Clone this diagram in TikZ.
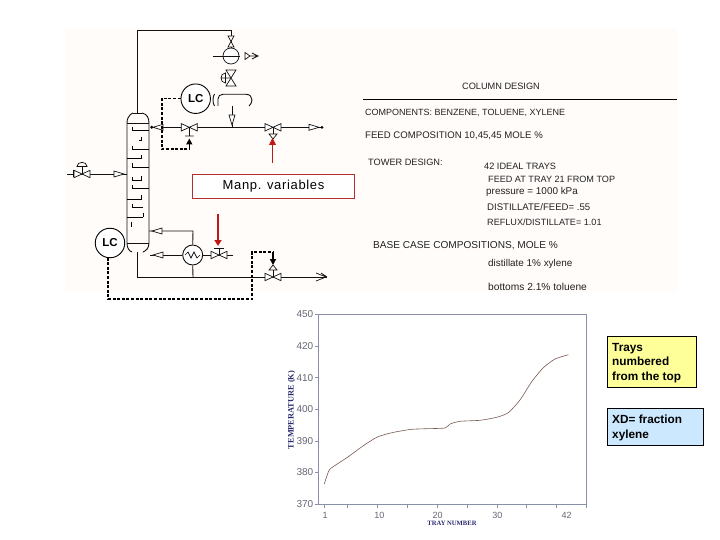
\documentclass[tikz,border=0pt]{standalone}
\usepackage{fontspec}
\setmainfont{Liberation Sans}
\newfontfamily\spacedfont[LetterSpace=5]{Liberation Sans}
\newfontfamily\axisfont{Liberation Serif}
\usetikzlibrary{arrows.meta}
\definecolor{pid}{HTML}{111111}
\definecolor{redbox}{HTML}{B03030}
\definecolor{redarrow}{HTML}{C01818}
\definecolor{axisc}{HTML}{8A8FA8}
\definecolor{curvec}{HTML}{7A5A50}
\definecolor{ticktxt}{HTML}{666677}
\definecolor{axtitle}{HTML}{2A2A70}
\definecolor{txt}{HTML}{222222}
\definecolor{noteyellow}{HTML}{FFFF99}
\definecolor{noteblue}{HTML}{CCE8FF}
\newcommand{\dfont}[1]{\fontsize{#1}{11}\selectfont}
\tikzset{
  x=1pt,y=-1pt,
  pipe/.style={draw=pid,line width=0.9pt},
  signal/.style={draw=black,line width=1.6pt,dash pattern=on 3pt off 1.6pt},
  thin part/.style={draw=pid,line width=0.7pt},
  trayline/.style={draw=black,line width=1pt},
  blackarrow/.style={draw=black,line width=1.4pt,-{Triangle[length=6pt,width=6pt]}},
  redthin/.style={draw=redarrow,line width=0.8pt,-{Triangle[length=7pt,width=7pt]}},
  redthick/.style={draw=redarrow,line width=1.5pt,-{Triangle[length=6pt,width=7pt]}},
  lc/.style={circle,draw=black,line width=0.9pt,minimum size=29.5pt,inner sep=0pt,fill=white,font=\bfseries\fontsize{11.5}{11.5}\selectfont},
  design/.style={anchor=west,inner sep=0pt,text=txt},
  ticklab/.style={text=ticktxt,inner sep=0pt,font=\fontsize{10}{10}\selectfont},
  xticklab/.style={text=ticktxt,inner sep=0pt,font=\fontsize{9}{9}\selectfont},
  notebox/.style={draw=black,line width=0.7pt,anchor=north west,inner sep=0pt},
  notetext/.style={anchor=west,align=left,inner sep=0pt,font=\bfseries\fontsize{11.8}{14.7}\selectfont,text=black},
  hvalve/.pic={\draw[thin part,fill=white] (-8,-3.7)--(8,3.7)--(8,-3.7)--(-8,3.7)--cycle;},
  vvalve/.pic={\draw[thin part,fill=white] (-5,-8)--(5,8)--(-5,8)--(5,-8)--cycle;},
  vsmall/.pic={\draw[thin part,fill=white] (-3,-5.5)--(3,5.5)--(-3,5.5)--(3,-5.5)--cycle;},
  flowr/.pic={\draw[thin part,fill=white] (-5,-3)--(5,0)--(-5,3)--cycle;},
  flowl/.pic={\draw[thin part,fill=white] (5,-3)--(-5,0)--(5,3)--cycle;},
  flowd/.pic={\draw[thin part,fill=white] (-3,-5)--(0,5)--(3,-5)--cycle;},
}
\begin{document}
\begin{tikzpicture}
\useasboundingbox (0,0) rectangle (720,540);
\fill[white] (0,0) rectangle (720,540);
\fill[fill=white!98!orange] (65,28) rectangle (677,293);
% column
\coordinate (coltop) at (137.5,113);
\coordinate (colbot) at (137.5,252);
\draw[pipe] (127,123) .. controls (127,115) and (133,113) .. (133,113) (142,113) .. controls (147,114) and (149,118) .. (149,123)
  -- (149,243) .. controls (149,248) and (146,251) .. (143,252)
  (132,252) .. controls (129,251) and (127,248) .. (127,243) -- (127,123);
\draw[pipe] (133,113)--(142,113);
\draw[pipe] (127,123)--(149,123) (127,243)--(149,243);
% trays
\foreach \xa/\xb/\yy in {132/149/130.7,132/149/149.5,127/141.7/159,132/149/167.5,132/141.7/181,132/149/189,127/141.7/199.3,132/143/207.5,127/143/217.3}{
  \draw[trayline] (\xa,\yy)--(\xb,\yy);
}
\draw[trayline] (132,127)--(132,130.7) (141,137)--(141,141)--(138.5,141) (132,146)--(132,149.5)
  (141.7,155.5)--(141.7,159) (132,163.5)--(132,167.5) (132,177)--(132,181) (141.7,176)--(141.7,181)
  (132,185)--(132,189) (141.7,195)--(141.7,199.3) (132,204)--(132,207.5) (143,213)--(143,217.3) (131,222)--(131,227);
% top
\coordinate (cond) at (231,48);
\draw[pipe] (coltop)--(137.5,30)--(231,30)--(cond);
\draw[thin part,fill=white] (231,56) circle[radius=8];
\draw[pipe] (213,56)--(240,56);
\pic at (231,41.5) {vsmall};
\draw[thin part] (245,52.5)--(245,59.5)--(250,56)--cycle (250,56)--(258,56) (252,53)--(258,56)--(252,59);
\pic at (231,78) {vvalve};
\draw[thin part] (225.5,73) .. controls (219.5,73) and (219.5,83) .. (225.5,83) -- cycle (221,78)--(231,78);
% reflux drum
\node[lc] (lc1) at (195.7,98.7) {LC};
\draw[pipe] (214.5,94) .. controls (212.5,97) and (212.5,103) .. (214.5,106)
  (218,106)--(218,99) .. controls (218,96) and (220,94.3) .. (223,94.3) -- (246,94.3)
  .. controls (250,94.3) and (252,97) .. (252,100) .. controls (252,102.5) and (250.5,104.5) .. (249,106);
% reflux and distillate
\coordinate (refl) at (151.7,127.3);
\coordinate (dist) at (322,127.3);
\draw[pipe] (refl)--(dist);
\fill[black] (refl) circle[radius=1.6] (dist) circle[radius=1.5];
\pic at (158,127.3) {flowl};
\pic at (189.3,127.3) {hvalve};
\pic at (273,127.3) {hvalve};
\pic at (314,127.3) {flowr};
\draw[pipe] (232,106)--(232,127.3);
\pic at (232,120) {flowd};
\draw[pipe] (189.3,127.3)--(189.3,136) (273,127.3)--(273,134);
\draw[thin part] (185,136)--(193.5,136) (269,134)--(277,134)--(273,139)--cycle;
\coordinate (sv1) at (189.3,149.3);
\coordinate (sv1h) at (189.3,138.5);
\draw[signal] (lc1.west)--(161.7,98.7)--(161.7,149.3)--(sv1);
\draw[blackarrow] (sv1)--(sv1h);
% red note
\node[draw=redbox,line width=0.8pt,fill=white,minimum width=162pt,minimum height=24pt,inner sep=0pt,text=black] (manp) at (273.5,186) {\spacedfont\fontsize{13}{13}\selectfont Manp. variables};
\coordinate (r1a) at (272.5,163);
\coordinate (r1b) at (272.5,138);
\coordinate (r2a) at (218,214);
\coordinate (r2b) at (218,246);
\draw[redthin] (r1a)--(r1b);
\draw[redthick] (r2a)--(r2b);
% feed
\coordinate (feedin) at (67,174);
\coordinate (feedout) at (127,174);
\draw[pipe] (feedin)--(feedout);
\draw[thin part] (73.5,170.5)--(73.5,177.5);
\pic at (82,174) {hvalve};
\pic at (119,174) {flowr};
\draw[pipe] (82,174)--(82,166.5);
\draw[thin part] (77,166.5) .. controls (77,161) and (87,161) .. (87,166.5) -- cycle;
% reboiler
\node[circle,draw=pid,line width=0.9pt,minimum size=20pt,inner sep=0pt,fill=white] (reb) at (192.7,255) {};
\draw[thin part] (185,255)--(188,252)--(191,258)--(194,252)--(197,258)--(200,255);
\coordinate (vapin) at (149,231);
\coordinate (liqout) at (150,255);
\coordinate (stm) at (233,255);
\coordinate (botturn) at (137.5,277);
\coordinate (botend) at (327,277);
\draw[pipe] (reb.north)--(193,231)--(vapin);
\pic at (157,231) {flowl};
\draw[pipe] (reb.west)--(liqout);
\pic at (158,255) {flowl};
\draw[pipe] (reb.east)--(stm);
\pic at (219,255) {hvalve};
\draw[pipe] (219,255)--(219,248);
\draw[thin part] (214,248)--(224,248);
\draw[pipe] (colbot)--(botturn)--(botend);
\draw[pipe] (reb.south)--(193,277);
\pic at (273,277) {hvalve};
\draw[thin part] (269,270)--(277,270)--(273,265)--cycle;
\draw[pipe] (273,277)--(273,270);
\draw[thin part] (316,273)--(326,277)--(316,281) (321,273)--(327,277);
% LC bottom
\node[lc] (lc2) at (110,243) {LC};
\coordinate (sv2) at (273,252);
\coordinate (sv2h) at (273,265);
\coordinate (lc2s) at (108,257.5);
\draw[signal] (lc2s)--(108,299)--(252,299)--(252,252)--(sv2);
\draw[blackarrow] (sv2)--(sv2h);
% column design
\node[anchor=center,inner sep=0pt,text=txt,font=\dfont{9.2}] (t0) at (501,86) {COLUMN DESIGN};
\coordinate (ru1) at (363,99.5);
\coordinate (ru2) at (677,99.5);
\draw[black,line width=0.8pt] (ru1)--(ru2);
\node[design,font=\dfont{9.0}] (t1) at (365,112.7) {COMPONENTS: BENZENE, TOLUENE, XYLENE};
\node[design,font=\dfont{9.6}] (t2) at (365,136) {FEED COMPOSITION 10,45,45 MOLE \%};
\node[design,font=\dfont{9.2}] (t3) at (368,162) {TOWER DESIGN:};
\node[design,font=\dfont{9.2}] (t4) at (484,166) {42 IDEAL TRAYS};
\node[design,font=\dfont{9.1}] (t5) at (488,179) {FEED AT TRAY 21 FROM TOP};
\node[design,font=\dfont{9.9}] (t6) at (486,192) {pressure = 1000 kPa};
\node[design,font=\dfont{9.6}] (t7) at (487,207) {DISTILLATE/FEED= .55};
\node[design,font=\dfont{9.1}] (t8) at (487,222) {REFLUX/DISTILLATE= 1.01};
\node[design,font=\dfont{10.1}] (t9) at (373,246) {BASE CASE COMPOSITIONS, MOLE \%};
\node[design,font=\dfont{9.9}] (t10) at (488,264) {distillate 1\% xylene};
\node[design,font=\dfont{10.2}] (t11) at (488,287) {bottoms 2.1\% toluene};
% chart
\draw[axisc,line width=0.8pt] (318.3,314.3) rectangle (586,504.3);
\foreach \xx in {324.3,347.7,377.7,407.3,437.3,467.3,497,526.7,556.7,586}{
  \draw[axisc,line width=0.6pt] (\xx,504.3)--(\xx,508);}
\foreach \yy/\lab in {314.3/450,346/420,377.7/410,409.3/400,441/390,472.3/380,504.3/370}{
  \draw[axisc,line width=0.6pt] (318.3,\yy)--(315,\yy);
  \node[ticklab,anchor=east] (ylab\lab) at (313.5,\yy) {\lab};}
\foreach \xx/\lab in {325/1,379.3/10,437.7/20,497.3/30,566.7/42}{
  \node[xticklab] (xlab\lab) at (\xx,515) {\lab};}
\node[rotate=90,text=axtitle,inner sep=0pt,font=\axisfont\bfseries\fontsize{8.3}{9}\selectfont] (ytitle) at (291.7,410) {TEMPERATURE (K)};
\node[text=axtitle,inner sep=0pt,font=\axisfont\bfseries\fontsize{6.6}{8}\selectfont] (xtitle) at (452,523) {TRAY NUMBER};
\draw[curvec,line width=0.6pt] plot[smooth,tension=0.35] coordinates {
 (324.3,484) (329.3,470) (338.3,463.3) (348.3,456.7) (363.3,445.7) (376.7,437.3)
 (386.7,434) (396.7,431.7) (411.7,429.3) (426.7,428.7) (445,428) (450,424) (460,421.3)
 (480,420.3) (496.7,417.3) (508.3,412.7) (520,400) (531.7,381.7) (543.3,367.7) (555,359) (568.3,354.7)};
% notes
\node[notebox,fill=noteyellow,minimum width=89.3pt,minimum height=51.3pt] (n1) at (606.7,336) {};
\node[notetext] (n1t) at (612,363) {Trays\\numbered\\from the top};
\node[notebox,fill=noteblue,minimum width=96pt,minimum height=36.7pt] (n2) at (606.7,408.3) {};
\node[notetext] (n2t) at (612,428) {XD= fraction\\xylene};
\end{tikzpicture}
\end{document}
